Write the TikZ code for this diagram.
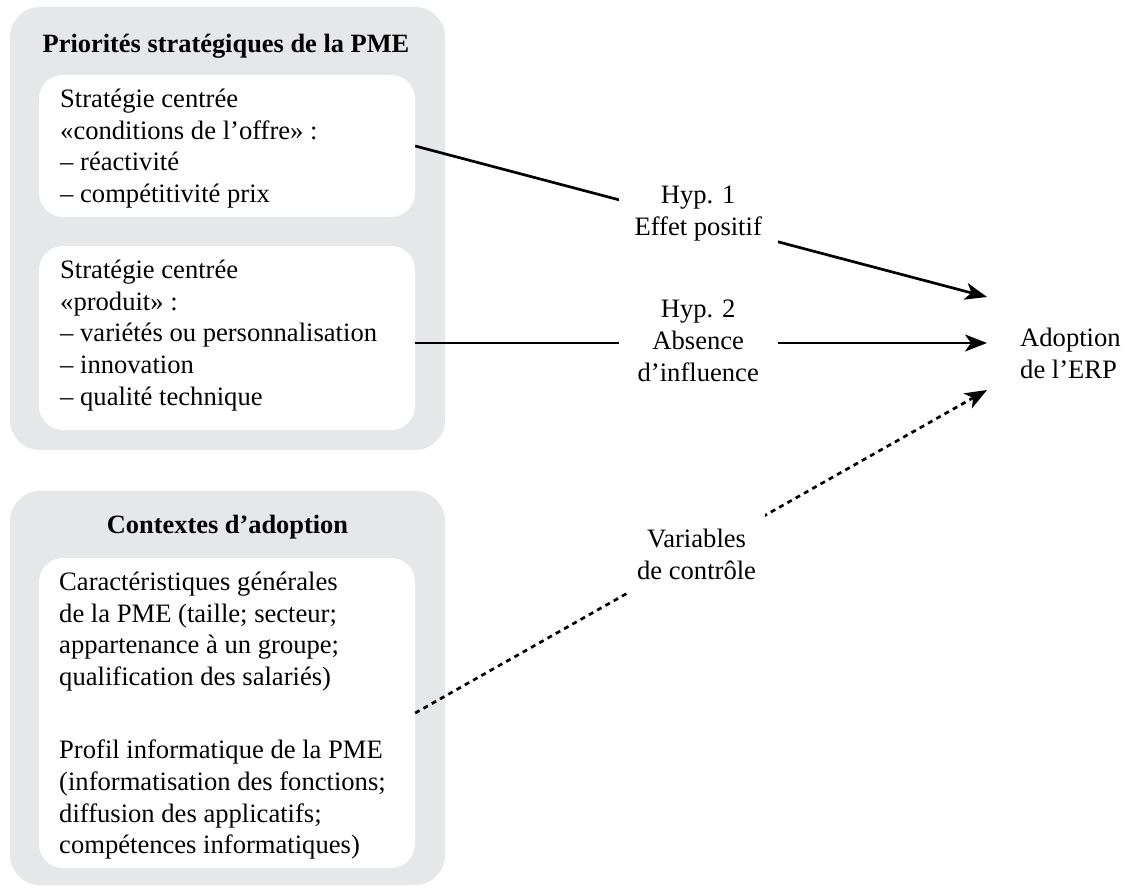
\documentclass[tikz,border=0pt]{standalone}
\usepackage{fontspec}
\setmainfont{Liberation Serif}
\usetikzlibrary{arrows.meta}
\definecolor{panelgray}{RGB}{230,231,232}
\tikzset{
  panel/.style={rectangle, rounded corners=30pt, fill=panelgray, inner sep=0pt},
  wbox/.style={rectangle, rounded corners=24pt, fill=white, inner sep=0pt},
  body/.style={inner sep=0pt, align=left, anchor=north west, font=\fontsize{26.6}{31.6}\selectfont},
  ttl/.style={inner sep=0pt, anchor=base, font=\fontsize{26.4}{31.6}\selectfont\bfseries},
  lab/.style={fill=white, inner xsep=0pt, inner ysep=3pt, align=center, font=\fontsize{26.6}{32}\selectfont},
  conn/.style={line width=2.7pt, -{Stealth[length=22pt, width=17pt, inset=6pt]}},
  dconn/.style={conn, dash pattern=on 5pt off 4.5pt}
}
\begin{document}
\begin{tikzpicture}[x=1pt,y=-1pt]
\useasboundingbox (0,0) rectangle (1125,888);
% panels
\node[panel, minimum width=435pt, minimum height=443pt] (g1) at (227.5,228.5) {};
\node[panel, minimum width=435pt, minimum height=394pt] (g2) at (227.5,688) {};
\node[wbox, minimum width=376pt, minimum height=142pt] (w1) at (227,146) {};
\node[wbox, minimum width=376pt, minimum height=184pt] (w2) at (227,338) {};
\node[wbox, minimum width=376pt, minimum height=310pt] (w3) at (227,713) {};
% titles
\node[ttl] (tt1) at (226,53) {Priorités stratégiques de la PME};
\node[ttl] (tt2) at (227.5,533) {Contextes d’adoption};
% texts
\node[body] (t1) at (60,89) {Stratégie centrée\\«conditions de l’offre» :\\– réactivité\\– compétitivité prix};
\node[body] (t2) at (60,260) {Stratégie centrée\\«produit» :\\– variétés ou personnalisation\\– innovation\\– qualité technique};
\node[body] (t3) at (59,572) {Caractéristiques générales\\de la PME (taille; secteur;\\appartenance à un groupe;\\qualification des salariés)};
\node[body] (t4) at (59,740) {Profil informatique de la PME\\(informatisation des fonctions;\\diffusion des applicatifs;\\compétences informatiques)};
\node[body] (ad) at (1020,328) {Adoption\\de l’ERP};
% arrow ends
\coordinate (e1) at (987,297);
\coordinate (e2) at (987,343);
\coordinate (e3) at (987,390);
% connectors
\draw[conn] (w1.east) -- node[lab, pos=0.495, yshift=7pt, minimum width=159pt] (h1) {Hyp. 1\\Effet positif} (e1);
\draw[conn] (w2.east |- e2) -- node[lab, pos=0.495, yshift=2pt, minimum width=159pt] (h2) {Hyp. 2\\Absence\\d’influence} (e2);
\draw[dconn] (w3.east) -- node[lab, pos=0.492, minimum width=136pt, minimum height=80pt] (h3) {Variables\\de contrôle} (e3);
\end{tikzpicture}
\end{document}
